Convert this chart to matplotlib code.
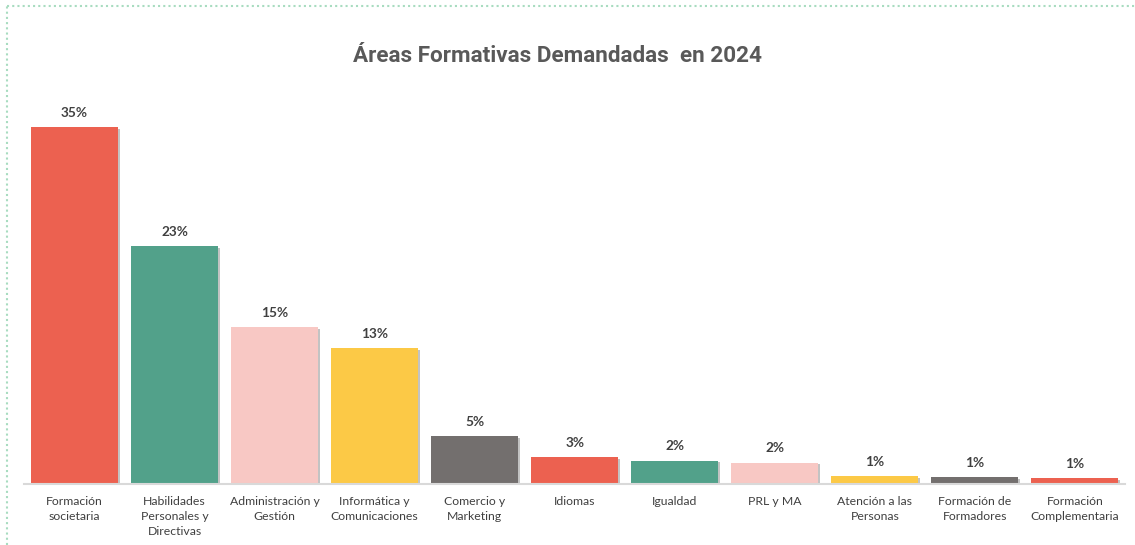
import matplotlib.pyplot as plt
import matplotlib.patheffects as pe
from matplotlib.lines import Line2D
import numpy as np

# data
categories = ['Formación\nsocietaria', 'Habilidades\nPersonales y\nDirectivas', 'Administración y\nGestión',
              'Informática y\nComunicaciones', 'Comercio y\nMarketing', 'Idiomas', 'Igualdad', 'PRL y MA',
              'Atención a las\nPersonas', 'Formación de\nFormadores', 'Formación\nComplementaria']
values = [35.0, 23.3, 15.4, 13.3, 4.7, 2.6, 2.3, 2.1, 0.8, 0.7, 0.6]
colors = ['#EC6150', '#52A18A', '#F8C8C4', '#FCC946', '#736F6E',
          '#EC6150', '#52A18A', '#F8C8C4', '#FCC946', '#736F6E', '#EC6150']

fig = plt.figure(figsize=(11.35, 5.45), dpi=100)
ax = fig.add_axes([24/1135, 61/545, 1101/1135, 408/545])

x = np.arange(len(categories))
bars = ax.bar(x, values, width=0.87, color=colors, zorder=2)
for b in bars:
    b.set_path_effects([pe.SimplePatchShadow(offset=(1.2, -1.2), shadow_rgbFace='#888888', alpha=0.5), pe.Normal()])

for xi, v in zip(x, values):
    ax.annotate(f'{int(v + 0.5)}%', (xi, v), textcoords='offset points', xytext=(0, 6),
                ha='center', va='bottom', fontsize=9.8, fontweight='bold', color='#404040', family='Lato')

ax.set_xlim(-0.505, 10.5)
ax.set_ylim(0, 40)
ax.set_xticks(x)
ax.set_xticklabels(categories, fontsize=8.8, color='#404040', family='Lato', linespacing=1.45)
ax.tick_params(axis='x', length=0, pad=8.5)
ax.set_yticks([])
for s in ['top', 'right', 'left']:
    ax.spines[s].set_visible(False)
ax.spines['bottom'].set_color('#D9D9D9')
ax.spines['bottom'].set_linewidth(1.5)

fig.text(0.4916, 1 - 56/545, 'Áreas Formativas Demandadas  en 2024', ha='center', va='center',
         fontsize=16.2, fontweight='bold', color='#595959', family='Roboto')

# dotted frame around the chart area
fig.add_artist(Line2D([7/1135, 1], [1 - 6/545, 1 - 6/545], transform=fig.transFigure,
                      color='#A8DCC0', linestyle=(0, (1, 1.5)), linewidth=1.5))
fig.add_artist(Line2D([7/1135, 7/1135], [0, 1 - 6/545], transform=fig.transFigure,
                      color='#A8DCC0', linestyle=(0, (1, 1.5)), linewidth=1.5))

fig.savefig('out.png', dpi=100)
